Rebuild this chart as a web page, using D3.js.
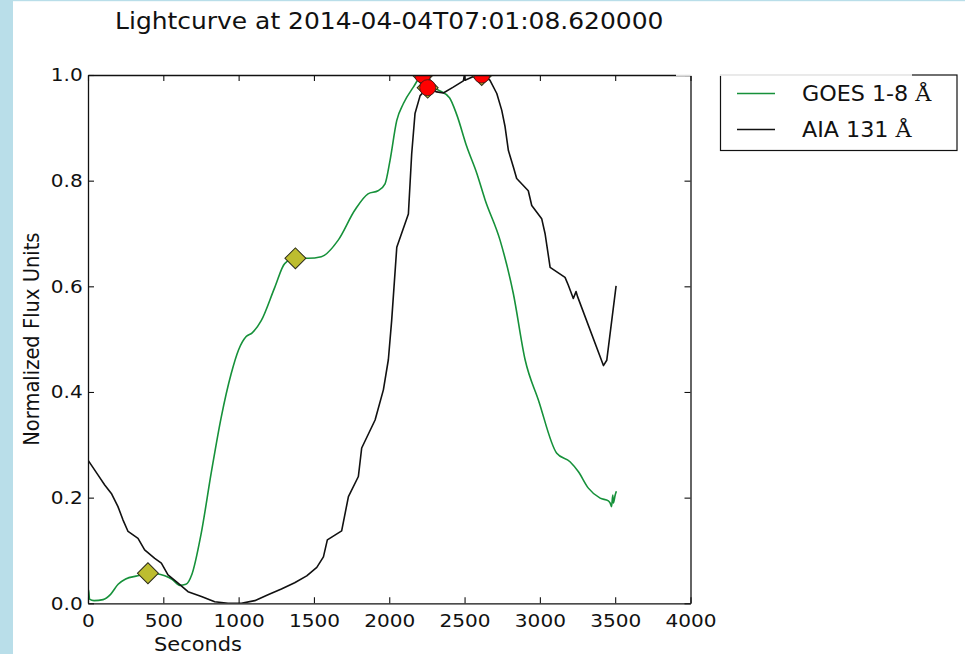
<!DOCTYPE html>
<html>
<head>
<meta charset="utf-8">
<script src="https://cdn.jsdelivr.net/npm/d3@7/dist/d3.min.js"></script>
<style>
  html, body { margin: 0; padding: 0; background: #fff; }
  svg { display: block; font-family: "DejaVu Sans", sans-serif; }
</style>
</head>
<body>
<svg id="chart" width="965" height="654"></svg>
<script>
// ---- data -------------------------------------------------------------
const titleText = "Lightcurve at 2014-04-04T07:01:08.620000";
const xLabel = "Seconds";
const yLabel = "Normalized Flux Units";
const xTicks = [0, 500, 1000, 1500, 2000, 2500, 3000, 3500, 4000];
const yTicks = [0.0, 0.2, 0.4, 0.6, 0.8, 1.0];
const seriesNames = ["GOES 1-8 ", "AIA 131 "];

// GOES 1-8 Å normalized flux: [seconds, value]
const goesTime = [0, 4, 10, 40, 100, 150, 200, 250, 330, 398, 460, 510, 560, 610, 650, 690, 750, 820, 885, 950, 1000, 1050, 1090, 1150, 1240, 1306, 1377, 1461, 1549, 1660, 1771, 1859, 1926, 1972, 2005, 2050, 2094, 2160, 2222, 2280, 2330, 2400, 2448, 2514, 2581, 2636, 2736, 2824, 2902, 2990, 3112, 3200, 3256, 3322, 3400, 3455, 3466, 3476, 3484, 3488, 3500, 3508];
const goesFlux = [0.0, 0.025, 0.008, 0.005, 0.007, 0.017, 0.036, 0.046, 0.052, 0.057, 0.056, 0.052, 0.045, 0.034, 0.036, 0.055, 0.13, 0.25, 0.353, 0.434, 0.48, 0.505, 0.512, 0.535, 0.598, 0.643, 0.653, 0.653, 0.656, 0.687, 0.744, 0.775, 0.781, 0.794, 0.838, 0.914, 0.946, 0.977, 1.0, 0.978, 0.971, 0.957, 0.925, 0.865, 0.814, 0.764, 0.687, 0.586, 0.461, 0.385, 0.284, 0.268, 0.249, 0.218, 0.199, 0.194, 0.19, 0.183, 0.205, 0.19, 0.205, 0.212];

// AIA 131 Å normalized flux: [seconds, value]
const aiaTime = [0, 66, 111, 155, 199, 232, 266, 332, 376, 443, 487, 531, 598, 664, 753, 841, 930, 1018, 1107, 1195, 1284, 1372, 1452, 1519, 1563, 1589, 1684, 1729, 1795, 1817, 1906, 1961, 1994, 2016, 2050, 2127, 2149, 2171, 2205, 2255, 2315, 2359, 2425, 2492, 2499, 2503, 2559, 2614, 2669, 2714, 2747, 2769, 2791, 2824, 2846, 2923, 2946, 3012, 3035, 3068, 3167, 3189, 3222, 3240, 3251, 3422, 3444, 3506];
const aiaFlux = [0.271, 0.243, 0.224, 0.208, 0.183, 0.158, 0.136, 0.123, 0.101, 0.085, 0.076, 0.054, 0.038, 0.022, 0.013, 0.003, 0.0, 0.0, 0.005, 0.016, 0.027, 0.039, 0.052, 0.068, 0.088, 0.12, 0.137, 0.202, 0.24, 0.294, 0.347, 0.404, 0.461, 0.535, 0.674, 0.737, 0.851, 0.927, 0.961, 0.976, 0.968, 0.966, 0.977, 0.989, 1.0, 0.99, 0.997, 1.0, 0.99, 0.965, 0.933, 0.902, 0.857, 0.826, 0.804, 0.781, 0.753, 0.728, 0.699, 0.636, 0.617, 0.602, 0.577, 0.59, 0.58, 0.45, 0.46, 0.601];

// flagged points
const diamondTime = [398, 1377, 2222, 2255, 2614];
const diamondFlux = [0.057, 0.653, 1.0, 0.976, 1.0];
const peakTime = [2222, 2255, 2614];
const peakFlux = [1.0, 0.976, 1.0];

// ---- layout -----------------------------------------------------------
const svg = d3.select("#chart");
const W = 965, H = 654;
const plot = { left: 88, right: 690.5, top: 75, bottom: 603.3 };
const SX = 1.085; // horizontal stretch of glyphs
const green = "#16913a";
const fontMain = "DejaVu Sans";

const x = d3.scaleLinear().domain([0, 4000]).range([plot.left, plot.right]);
const y = d3.scaleLinear().domain([0, 1]).range([plot.bottom, plot.top]);

svg.append("rect").attr("width", W).attr("height", H).attr("fill", "#fff");

// frame strips at the page edge
svg.append("rect").attr("x", 0).attr("y", 0).attr("width", 13).attr("height", H).attr("fill", "#b9dee9");
svg.append("rect").attr("x", 0).attr("y", 0).attr("width", W).attr("height", 1.2).attr("fill", "#b9dee9");

// helper for stretched text
function stretchedText(g, tx, ty, str, size, anchor) {
  return g.append("text")
    .attr("transform", `translate(${tx},${ty}) scale(${SX},1)`)
    .attr("text-anchor", anchor || "start")
    .attr("font-size", size)
    .attr("fill", "#111")
    .text(str);
}

// title
stretchedText(svg, (plot.left + plot.right) / 2, 29, titleText, 23, "middle");

// clip region for the data
svg.append("defs").append("clipPath").attr("id", "plotclip")
  .append("rect")
  .attr("x", plot.left).attr("y", plot.top)
  .attr("width", plot.right - plot.left).attr("height", plot.bottom - plot.top);

const data = svg.append("g").attr("clip-path", "url(#plotclip)");

const goes = goesTime.map((t, i) => [t, goesFlux[i]]);
const aia = aiaTime.map((t, i) => [t, aiaFlux[i]]);

data.append("path")
  .datum(goes)
  .attr("fill", "none")
  .attr("stroke", green)
  .attr("stroke-width", 1.6)
  .attr("stroke-linejoin", "round")
  .attr("d", d3.line().x(d => x(d[0])).y(d => y(d[1])).curve(d3.curveMonotoneX));

data.append("path")
  .datum(aia)
  .attr("fill", "none")
  .attr("stroke", "#111")
  .attr("stroke-width", 1.6)
  .attr("stroke-linejoin", "round")
  .attr("d", d3.line().x(d => x(d[0])).y(d => y(d[1])));

// diamond markers
const diamond = d3.symbol().type(d3.symbolSquare).size(220);
data.selectAll(".dia")
  .data(diamondTime.map((t, i) => [t, diamondFlux[i]]))
  .join("path")
  .attr("class", "dia")
  .attr("d", diamond)
  .attr("transform", d => `translate(${x(d[0])},${y(d[1])}) rotate(45)`)
  .attr("fill", "#bdbd2f")
  .attr("stroke", "#2b2b1a")
  .attr("stroke-width", 1);

// peak markers
data.selectAll(".peak")
  .data(peakTime.map((t, i) => [t, peakFlux[i]]))
  .join("circle")
  .attr("class", "peak")
  .attr("cx", d => x(d[0]))
  .attr("cy", d => y(d[1]))
  .attr("r", 8)
  .attr("fill", "#ff0000")
  .attr("stroke", "#3a1a1a")
  .attr("stroke-width", 0.8);

// ---- axes -------------------------------------------------------------
const axisStyle = g => {
  g.select(".domain").attr("stroke", "#111").attr("stroke-width", 1.3);
  g.selectAll(".tick line").attr("stroke", "#111").attr("stroke-width", 1.1);
};

const gx = svg.append("g")
  .attr("transform", `translate(0,${plot.bottom})`)
  .call(d3.axisBottom(x).tickValues(xTicks).tickFormat(d3.format("d"))
    .tickSizeInner(-6).tickSizeOuter(0).tickPadding(10.5))
  .call(axisStyle);
gx.selectAll("text")
  .attr("font-family", fontMain).attr("font-size", 18.5).attr("fill", "#111")
  .attr("transform", `scale(${SX},1)`);

const gxTop = svg.append("g")
  .attr("transform", `translate(0,${plot.top})`)
  .call(d3.axisTop(x).tickValues(xTicks).tickFormat("")
    .tickSizeInner(-6).tickSizeOuter(0))
  .call(axisStyle);

const gy = svg.append("g")
  .attr("transform", `translate(${plot.left},0)`)
  .call(d3.axisLeft(y).tickValues(yTicks).tickFormat(d3.format(".1f"))
    .tickSizeInner(-6).tickSizeOuter(0).tickPadding(5))
  .call(axisStyle);
gy.selectAll("text")
  .attr("font-family", fontMain).attr("font-size", 18.5).attr("fill", "#111")
  .attr("x", -5.3 / SX)
  .attr("transform", `scale(${SX},1)`);

const gyRight = svg.append("g")
  .attr("transform", `translate(${plot.right},0)`)
  .call(d3.axisRight(y).tickValues(yTicks).tickFormat("")
    .tickSizeInner(-6).tickSizeOuter(0))
  .call(axisStyle);

// axis titles
stretchedText(svg, 198, 651, xLabel, 19.3, "middle");
svg.append("text")
  .attr("transform", `translate(38.5,${(plot.top + plot.bottom) / 2}) scale(${SX},1) rotate(-90)`)
  .attr("text-anchor", "middle")
  .attr("font-size", 19.5)
  .attr("fill", "#111")
  .text(yLabel);

// ---- legend -----------------------------------------------------------
const leg = svg.append("g");
leg.append("rect")
  .attr("x", 720.5).attr("y", 75).attr("width", 236.5).attr("height", 75.5)
  .attr("fill", "#fff").attr("stroke", "#111").attr("stroke-width", 1.2);

const legendColors = [green, "#111"];
const legendRows = [93.5, 129.5];
seriesNames.forEach((name, i) => {
  leg.append("line")
    .attr("x1", 737).attr("x2", 775)
    .attr("y1", legendRows[i]).attr("y2", legendRows[i])
    .attr("stroke", legendColors[i]).attr("stroke-width", 1.6);
  const t = stretchedText(leg, 802, legendRows[i] + 7, name, 20.5, "start");
  t.append("tspan").attr("font-family", "DejaVu Serif").text("Å");
});

// light band across the upper edge on the right
svg.append("rect")
  .attr("x", 676).attr("y", 72).attr("width", 236).attr("height", 4)
  .attr("fill", "#fff").attr("opacity", 0.85);
</script>
</body>
</html>
